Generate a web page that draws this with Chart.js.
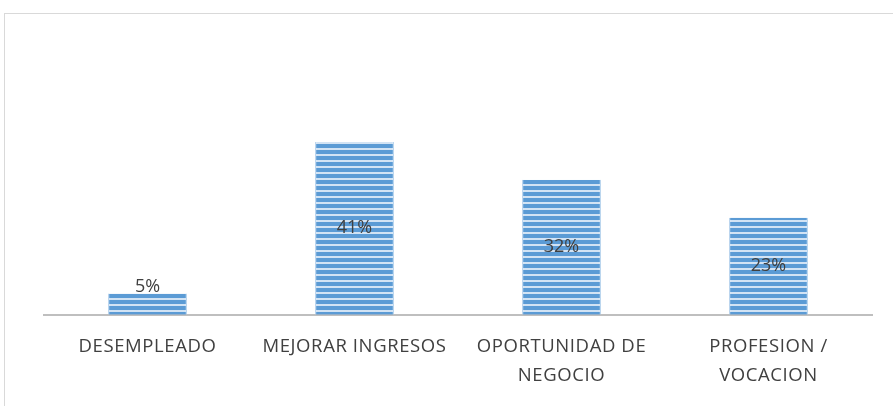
<!DOCTYPE html>
<html>
<head>
<meta charset="utf-8">
<script src="https://cdn.jsdelivr.net/npm/chart.js@4"></script>
<style>
  body { margin: 0; background: #fff; }
  #frame { position: absolute; left: 4px; top: 13px; width: 1000px; height: 500px; border: 1.5px solid #d9d9d9; }
  #wrap { position: absolute; left: 0; top: 0; width: 893px; height: 406px; }
</style>
</head>
<body>
<div id="frame"></div>
<div id="wrap"><canvas id="chart" width="893" height="406"></canvas></div>
<script>
// datos del grafico
const categorias = ['DESEMPLEADO', 'MEJORAR INGRESOS', ['OPORTUNIDAD DE', 'NEGOCIO'], ['PROFESION /', 'VOCACION']];
const porcentajes = [5, 41, 32, 23];
const etiquetas = ['5%', '41%', '32%', '23%'];

// relleno rayado horizontal
function rayas() {
    const c = document.createElement('canvas');
    c.width = 8; c.height = 6;
    const g = c.getContext('2d');
    g.fillStyle = '#5b9bd5';
    g.fillRect(0, 0, 8, 6);
    g.fillStyle = '#d2e3f4';
    g.fillRect(0, 4, 8, 2);
    return g.createPattern(c, 'repeat');
}

// espaciado de letras como en el original
const espaciado = {
    id: 'espaciado',
    beforeDraw(chart) { chart.ctx.letterSpacing = '0.6px'; }
};

// etiquetas de valor
const valores = {
    id: 'valores',
    afterDatasetsDraw(chart) {
        const ctx = chart.ctx;
        const meta = chart.getDatasetMeta(0);
        ctx.save();
        ctx.letterSpacing = '0px';
        ctx.font = '18px "Open Sans"';
        ctx.fillStyle = '#404040';
        ctx.textAlign = 'center';
        ctx.textBaseline = 'middle';
        meta.data.forEach((bar, i) => {
            const h = bar.base - bar.y;
            let y = (bar.y + bar.base) / 2;
            if (h < 30) y = bar.y - 7;
            ctx.fillText(etiquetas[i], bar.x, y);
        });
        ctx.restore();
    }
};

new Chart(document.getElementById('chart'), {
    type: 'bar',
    data: {
        labels: categorias,
        datasets: [{
            data: porcentajes,
            backgroundColor: rayas(),
            borderColor: '#9dc3e6',
            borderWidth: { left: 1, right: 1, top: 0, bottom: 0 },
            categoryPercentage: 1,
            barPercentage: 0.38
        }]
    },
    options: {
        responsive: false,
        animation: false,
        layout: { padding: { left: 44, right: 21, top: 104, bottom: 6 } },
        plugins: { legend: { display: false }, tooltip: { enabled: false } },
        scales: {
            x: {
                grid: { display: false },
                border: { color: '#bfbfbf', width: 2 },
                ticks: { color: '#404040', font: { family: 'Open Sans', size: 18.5, lineHeight: 1.55 }, padding: 10, maxRotation: 0, autoSkip: false }
            },
            y: { display: false, min: 0, max: 50 }
        }
    },
    plugins: [espaciado, valores]
});
</script>
</body>
</html>
